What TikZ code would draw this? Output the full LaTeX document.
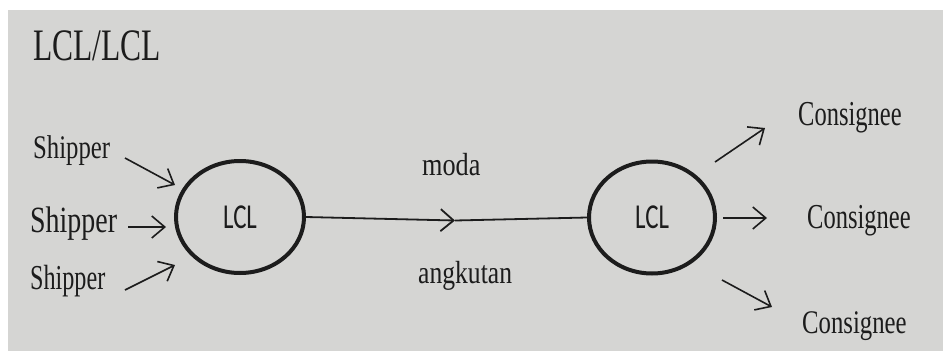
\documentclass[tikz,border=0pt]{standalone}
\usepackage{fontspec}
\setmainfont{Liberation Serif}
\newfontfamily\lclfont{Carlito}
\usetikzlibrary{shapes.geometric,arrows.meta}
\definecolor{bggray}{RGB}{213,213,211}
\definecolor{ink}{RGB}{28,28,28}
\tikzset{
  lbl/.style={anchor=base west,inner sep=0pt,text=ink},
  hub/.style={ellipse,draw=ink,line width=4pt,minimum width=128pt,minimum height=112pt,inner sep=0pt,text=ink},
  flow/.style={draw=ink,line width=1.6pt,-{Straight Barb[length=13pt,width=22pt]}},
  plain/.style={draw=ink,line width=1.8pt}
}
\newcommand{\sctxt}[3]{\scalebox{#1}[1]{\fontsize{#2}{#2}\selectfont #3}}
\begin{document}
\begin{tikzpicture}[x=1pt,y=-1pt]
\useasboundingbox (0,0) rectangle (943,351);
\fill[white] (0,0) rectangle (943,351);
\fill[bggray] (8,10) rectangle (943,351);
% title
\node[lbl] (title) at (33,60) {\sctxt{0.70}{45}{LCL/LCL}};
% shippers
\node[lbl] (s1) at (33,158) {\sctxt{0.75}{33}{Shipper}};
\node[lbl] (s2) at (30,232) {\sctxt{0.755}{37}{Shipper}};
\node[lbl] (s3) at (30,289) {\sctxt{0.69}{35}{Shipper}};
% hubs
\node[hub] (L) at (240,217) {\lclfont\sctxt{0.71}{35}{LCL}};
\node[hub,minimum width=126pt] (R) at (652,217.5) {\lclfont\sctxt{0.71}{35}{LCL}};
% mode labels
\node[lbl] (moda) at (422,175) {\sctxt{0.82}{32}{moda}};
\node[lbl] (angk) at (418,283) {\sctxt{0.80}{32}{angkutan}};
% consignees
\node[lbl] (c1) at (798,125) {\sctxt{0.70}{35}{Consignee}};
\node[lbl] (c2) at (807,228) {\sctxt{0.70}{35}{Consignee}};
\node[lbl] (c3) at (802,333) {\sctxt{0.75}{33}{Consignee}};
% arrow end points
\coordinate (a1s) at (125,158); \coordinate (a1e) at (175,185);
\coordinate (a2s) at (128,227); \coordinate (a2e) at (166,227);
\coordinate (a3s) at (125,290); \coordinate (a3e) at (175,265);
\coordinate (b1s) at (715,162); \coordinate (b1e) at (765,128);
\coordinate (b2s) at (723,218); \coordinate (b2e) at (767,218);
\coordinate (b3s) at (722,280); \coordinate (b3e) at (772,307);
\coordinate (mid) at (455,220.5);
% arrows
\draw[flow] (a1s) -- (a1e);
\draw[flow] (a2s) -- (a2e);
\draw[flow] (a3s) -- (a3e);
\draw[flow] (b1s) -- (b1e);
\draw[flow] (b2s) -- (b2e);
\draw[flow] (b3s) -- (b3e);
\draw[flow,line width=1.8pt] (L.east) -- (mid);
\draw[plain] (mid) -- (R.west);
\end{tikzpicture}
\end{document}
